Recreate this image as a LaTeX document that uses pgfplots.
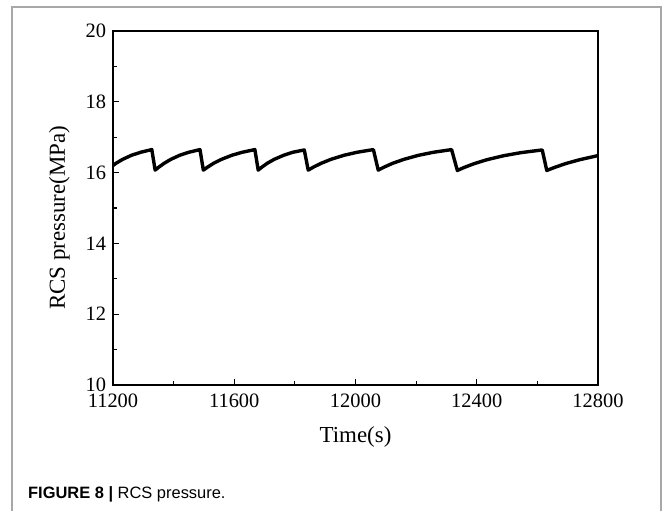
\documentclass[border=0pt]{standalone}
\usepackage{pgfplots}
\pgfplotsset{compat=1.18}
\usepackage{fontspec}
\setmainfont{Liberation Serif}
\newfontfamily\capfont{Liberation Sans}
\definecolor{framegray}{HTML}{A8A8A8}
\begin{document}
\begin{tikzpicture}
\useasboundingbox (0,0) rectangle (664bp,511bp);
\draw[framegray, line width=1.6bp] (12bp,0) -- (12bp,504bp) -- (661bp,504bp) -- (661bp,0);
\node[anchor=base west, inner sep=0pt, font=\capfont\fontsize{16.5}{19}\selectfont] at (28bp,13bp) {\textbf{FIGURE 8 |} RCS pressure.};
\begin{axis}[
  at={(113bp,126bp)}, anchor=origin,
  width=485bp, height=354bp, scale only axis,
  xmin=11200, xmax=12800, ymin=10, ymax=20,
  xtick={11200,11600,12000,12400,12800},
  ytick={10,12,14,16,18,20},
  scaled ticks=false,
  minor x tick num=1, minor y tick num=1,
  tick align=inside, tick pos=left,
  major tick length=6bp, minor tick length=3.5bp,
  every tick/.style={black, line width=1.1bp},
  axis line style={line width=1.3bp},
  /pgf/number format/1000 sep={},
  /pgf/number format/assume math mode=true,
  tick label style={font=\fontsize{20.5}{24}\selectfont},
  xticklabel style={font=\fontsize{20.5}{24}\selectfont, yshift=-5bp},
  yticklabel style={font=\fontsize{20.5}{24}\selectfont, xshift=-3.5bp},
  label style={font=\fontsize{23}{27}\selectfont},
  xlabel={Time(s)},
  ylabel={RCS pressure(MPa)},
  xlabel style={at={(rel axis cs:0.5,-0.1638)}, anchor=base},
  ylabel style={at={(rel axis cs:-0.099,0.472)}, anchor=base},
]
\addplot[black, line width=3.4bp, line join=round] coordinates {
(11200,16.20) (11210,16.264) (11232,16.375) (11261,16.489) (11291,16.574) (11328,16.65)
(11339,16.07) (11351,16.154) (11369,16.264) (11391,16.375) (11420,16.489) (11450,16.574) (11487,16.65)
(11498,16.07) (11512,16.154) (11532,16.264) (11558,16.375) (11592,16.489) (11626,16.574) (11668,16.65)
(11679,16.07) (11691,16.154) (11709,16.264) (11732,16.375) (11763,16.489) (11793,16.574) (11831,16.64)
(11844,16.07) (11861,16.154) (11887,16.264) (11919,16.375) (11962,16.489) (12005,16.574) (12059,16.65)
(12075,16.07) (12094,16.154) (12123,16.264) (12160,16.375) (12208,16.489) (12257,16.574) (12317,16.65)
(12336,16.06) (12358,16.144) (12392,16.254) (12434,16.365) (12490,16.479) (12546,16.564) (12616,16.64)
(12631,16.06) (12656,16.144) (12693,16.254) (12740,16.365) (12800,16.48)
};
\end{axis}
\end{tikzpicture}
\end{document}
